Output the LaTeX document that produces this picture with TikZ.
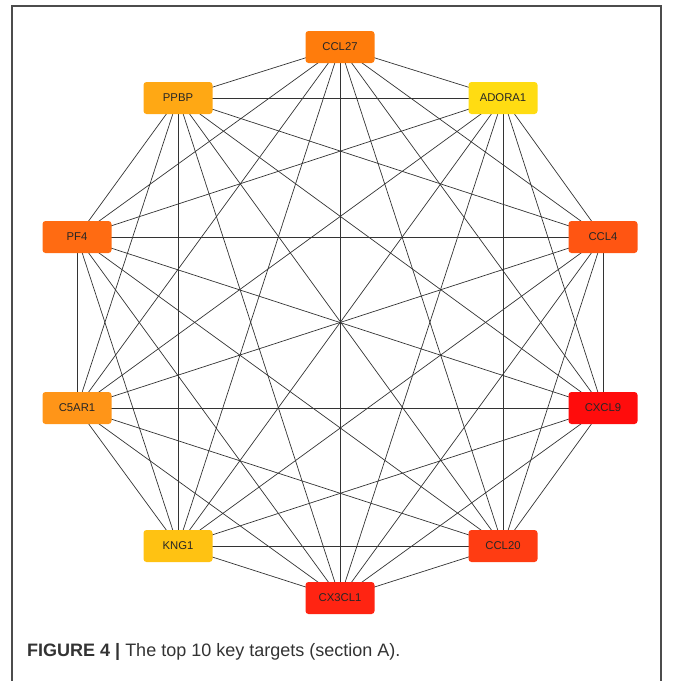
\documentclass[tikz,border=0pt]{standalone}
\usepackage{fontspec}
\setmainfont{Liberation Sans}
\begin{document}
\begin{tikzpicture}[x=1pt,y=-1pt,
  gene/.style={draw=none,rounded corners=3pt,minimum width=69pt,minimum height=32pt,inner sep=0pt,font=\fontsize{11.3}{12}\selectfont,text=black!85},
  edge/.style={draw=black!80,line width=0.7pt}]
\useasboundingbox (0,0) rectangle (673,681);
\draw[line width=1.4pt,draw=black!70] (12,681) -- (12,6) -- (661,6) -- (661,681);
\definecolor{cCCL27}{HTML}{FF7C0C}
\definecolor{cPPBP}{HTML}{FFA814}
\definecolor{cADORA1}{HTML}{FFDC12}
\definecolor{cPF4}{HTML}{FF6B12}
\definecolor{cCCL4}{HTML}{FF5512}
\definecolor{cC5ARa}{HTML}{FF9518}
\definecolor{cCXCL9}{HTML}{FF0C0C}
\definecolor{cKNG1}{HTML}{FFC212}
\definecolor{cCCL20}{HTML}{FF3C12}
\definecolor{cCX3CL1}{HTML}{FF2412}
\coordinate (p1) at (340,47);
\coordinate (p2) at (503,98);
\coordinate (p3) at (603,237);
\coordinate (p4) at (603,408);
\coordinate (p5) at (503,546);
\coordinate (p6) at (340,598);
\coordinate (p7) at (178,546);
\coordinate (p8) at (77,408);
\coordinate (p9) at (77,237);
\coordinate (p10) at (178,98);
\foreach \i in {1,...,10}{
  \foreach \j in {1,...,10}{
    \ifnum\i<\j \draw[edge] (p\i) -- (p\j); \fi
  }
}
\node[gene,fill=cCCL27] (n1) at (p1) {CCL27};
\node[gene,fill=cADORA1] (n2) at (p2) {ADORA1};
\node[gene,fill=cCCL4] (n3) at (p3) {CCL4};
\node[gene,fill=cCXCL9] (n4) at (p4) {CXCL9};
\node[gene,fill=cCCL20] (n5) at (p5) {CCL20};
\node[gene,fill=cCX3CL1] (n6) at (p6) {CX3CL1};
\node[gene,fill=cKNG1] (n7) at (p7) {KNG1};
\node[gene,fill=cC5ARa] (n8) at (p8) {C5AR1};
\node[gene,fill=cPF4] (n9) at (p9) {PF4};
\node[gene,fill=cPPBP] (n10) at (p10) {PPBP};
\node[anchor=west,inner sep=0pt,font=\fontsize{18}{20}\selectfont,text=black!80] (cap) at (27,652) {\textbf{FIGURE 4 |} The top 10 key targets (section A).};
\end{tikzpicture}
\end{document}
